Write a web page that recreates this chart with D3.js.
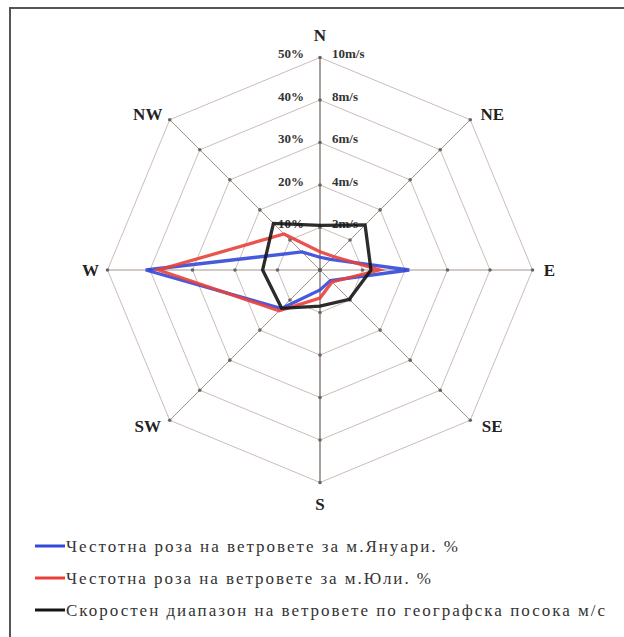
<!DOCTYPE html>
<html><head><meta charset="utf-8">
<script src="https://cdn.jsdelivr.net/npm/d3@7"></script>
<style>body{margin:0;background:#fff}svg{display:block}</style>
</head><body>
<svg id="c" width="624" height="637"></svg>
<script>
const directions = ["N","NE","E","SE","S","SW","W","NW"];
const januaryPct = [3, 3.5, 21, 3.5, 4.7, 12.8, 41, 6];
const julyPct    = [4.3, 4.5, 14, 4, 6.6, 13.6, 38, 12];
const speedMs    = [2.1, 3.0, 2.4, 1.95, 1.7, 2.55, 2.7, 3.1];
const pctTicks   = [10, 20, 30, 40, 50];
const pctLabels  = ["10%","20%","30%","40%","50%"];
const speedLabels= ["2m/s","4m/s","6m/s","8m/s","10m/s"];
const legendLabels = [
  "Честотна роза на ветровете за м.Януари.  %",
  "Честотна роза на ветровете за м.Юли.  %",
  "Скоростен диапазон  на ветровете по географска посока  м/с"
];

const svg = d3.select("#c");
const cx = 320, cy = 270, R = 212.5;
const rPct = d3.scaleLinear().domain([0,50]).range([0,R]);
const rSpd = d3.scaleLinear().domain([0,10]).range([0,R]);
const ang = d3.scalePoint().domain(directions).range([0, 2*Math.PI*7/8]);

// frame
svg.append("path").attr("d","M10,637 L10,8 L624,8").attr("fill","none").attr("stroke","#555").attr("stroke-width",2);

const g = svg.append("g").attr("transform",`translate(${cx},${cy})`);
const pt = (a, r) => [r*Math.sin(a), -r*Math.cos(a)];

// rings
pctTicks.forEach(t => {
  const pts = directions.map(d => pt(ang(d), rPct(t)));
  g.append("polygon").attr("points", pts.map(p=>p.join(",")).join(" "))
    .attr("fill","none").attr("stroke","#cdbdb8").attr("stroke-width",1);
});
// spokes
directions.forEach(d => {
  const p = pt(ang(d), R);
  g.append("line").attr("x1",0).attr("y1",0).attr("x2",p[0]).attr("y2",p[1])
    .attr("stroke", (d==="N"||d==="S") ? "#7d6e62" : "#a3958c").attr("stroke-width", (d==="N"||d==="S")?1.3:1);
  pctTicks.forEach(t => {
    const q = pt(ang(d), rPct(t));
    g.append("circle").attr("cx",q[0]).attr("cy",q[1]).attr("r",1.8).attr("fill","#666");
  });
});
g.append("circle").attr("r",2).attr("fill","#555");

// tick labels
pctTicks.forEach((t,i) => {
  g.append("text").attr("x",-16).attr("y",-rPct(t)).attr("dy","0.05em")
    .attr("text-anchor","end").attr("font-family","Liberation Serif").attr("font-weight","bold")
    .attr("font-size",13).attr("fill","#333").text(pctLabels[i]);
  g.append("text").attr("x",12).attr("y",-rPct(t)).attr("dy","0.05em")
    .attr("text-anchor","start").attr("font-family","Liberation Serif").attr("font-weight","bold")
    .attr("font-size",13).attr("fill","#333").text(speedLabels[i]);
});

// direction labels
directions.forEach(d => {
  const a = ang(d);
  let x, y;
  if (d.length === 2) {
    const v = pt(a, R);
    x = v[0] + Math.sign(v[0])*22; y = v[1] + Math.sign(v[1])*6;
  } else if (d === "E" || d === "W") {
    const v = pt(a, R + 17);
    x = v[0]; y = v[1];
  } else {
    const v = pt(a, R + 22);
    x = v[0]; y = v[1];
  }
  g.append("text").attr("x",x).attr("y",y).attr("dy","0.35em")
    .attr("text-anchor","middle").attr("font-family","Liberation Serif").attr("font-weight","bold")
    .attr("font-size",17).attr("fill","#222").text(d);
});

const line = d3.lineRadial().curve(d3.curveLinearClosed);
const series = [
  {vals: januaryPct, r: rPct, color:"#3448d8"},
  {vals: julyPct, r: rPct, color:"#e8413c"},
  {vals: speedMs, r: rSpd, color:"#151515"}
];
series.forEach(s => {
  g.append("path")
    .attr("d", line(directions.map((d,i)=>[ang(d), s.r(s.vals[i])])))
    .attr("fill","none").attr("stroke",s.color).attr("stroke-width",3.3).attr("stroke-linejoin","miter").attr("opacity",0.9);
});

// legend
const legY = [546, 578, 610];
const legEnd = [458, 431, 605];
legendLabels.forEach((txt,i) => {
  svg.append("line").attr("x1",35).attr("x2",65).attr("y1",legY[i]).attr("y2",legY[i])
    .attr("stroke",series[i].color).attr("stroke-width",3);
  svg.append("text").attr("x",66).attr("y",legY[i]).attr("dy","0.35em")
    .attr("font-family","Liberation Serif").attr("font-size",17).attr("fill","#333")
    .attr("textLength", legEnd[i]-66).attr("lengthAdjust","spacing").text(txt);
});
</script>
</body></html>
